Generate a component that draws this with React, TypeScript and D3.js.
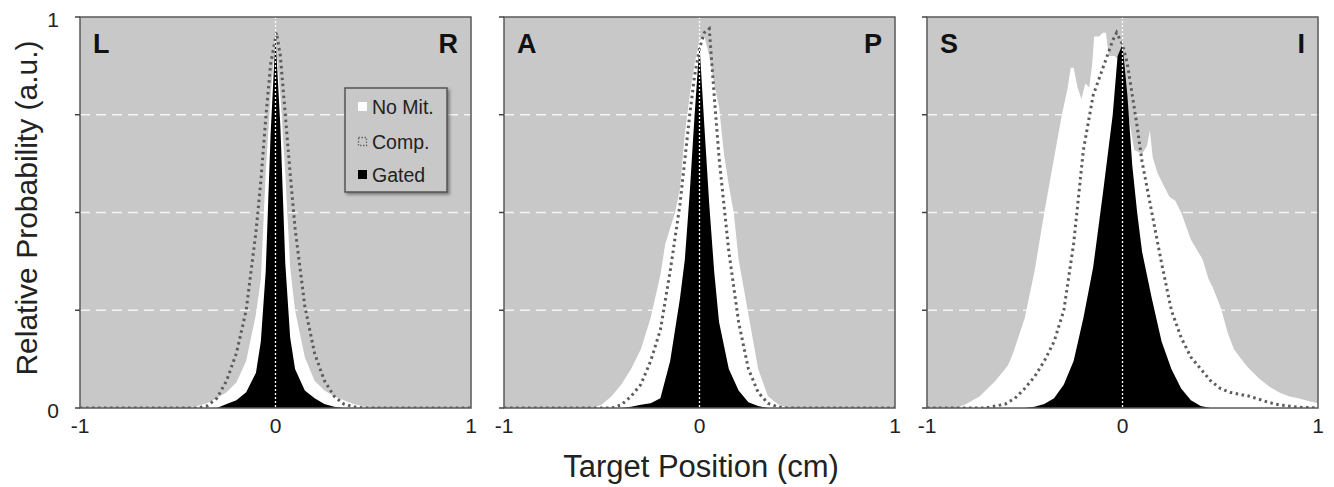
import * as d3 from "d3";
import React from "react";

// [x, relative probability] pairs
const lrNoMit: [number, number][] = [[-1,0],[-0.45,0],[-0.4,0.005],[-0.35,0.012],[-0.3,0.025],[-0.25,0.04],[-0.2,0.065],[-0.15,0.12],[-0.1,0.24],[-0.075,0.33],[-0.05,0.6],[-0.025,0.8],[0,0.94],[0.025,0.8],[0.05,0.6],[0.075,0.36],[0.1,0.25],[0.15,0.13],[0.2,0.07],[0.25,0.045],[0.3,0.03],[0.35,0.02],[0.4,0.01],[0.45,0.004],[0.5,0],[1,0]];
const lrComp: [number, number][] = [[-1,0],[-0.4,0],[-0.35,0.005],[-0.3,0.025],[-0.25,0.07],[-0.2,0.14],[-0.15,0.25],[-0.1,0.45],[-0.075,0.58],[-0.05,0.74],[-0.025,0.88],[0.005,0.96],[0.025,0.9],[0.05,0.75],[0.075,0.6],[0.1,0.46],[0.15,0.26],[0.2,0.14],[0.25,0.07],[0.3,0.03],[0.35,0.01],[0.4,0.003],[0.45,0],[1,0]];
const lrGated: [number, number][] = [[-1,0],[-0.3,0],[-0.25,0.01],[-0.2,0.02],[-0.15,0.04],[-0.1,0.09],[-0.075,0.17],[-0.05,0.35],[-0.025,0.7],[0,0.95],[0.025,0.72],[0.05,0.37],[0.075,0.18],[0.1,0.1],[0.15,0.045],[0.2,0.025],[0.25,0.01],[0.3,0.003],[0.35,0],[1,0]];

const apNoMit: [number, number][] = [[-1,0],[-0.55,0],[-0.5,0.008],[-0.45,0.03],[-0.4,0.06],[-0.35,0.1],[-0.3,0.15],[-0.25,0.23],[-0.2,0.34],[-0.175,0.42],[-0.15,0.46],[-0.125,0.5],[-0.1,0.56],[-0.075,0.7],[-0.05,0.8],[-0.025,0.88],[0,0.94],[0.025,0.95],[0.05,0.9],[0.075,0.83],[0.1,0.77],[0.125,0.65],[0.15,0.57],[0.175,0.5],[0.2,0.38],[0.25,0.24],[0.3,0.1],[0.35,0.03],[0.4,0.01],[0.45,0],[1,0]];
const apComp: [number, number][] = [[-1,0],[-0.45,0],[-0.4,0.008],[-0.35,0.03],[-0.3,0.06],[-0.25,0.12],[-0.2,0.2],[-0.15,0.35],[-0.1,0.52],[-0.05,0.75],[-0.025,0.85],[0,0.92],[0.025,0.96],[0.05,0.97],[0.075,0.8],[0.1,0.64],[0.15,0.4],[0.2,0.22],[0.25,0.1],[0.3,0.04],[0.35,0.012],[0.4,0.003],[0.45,0],[1,0]];
const apGated: [number, number][] = [[-1,0],[-0.4,0],[-0.35,0.003],[-0.3,0.008],[-0.25,0.012],[-0.2,0.025],[-0.15,0.12],[-0.1,0.28],[-0.075,0.38],[-0.05,0.55],[-0.025,0.75],[0,0.93],[0.025,0.72],[0.05,0.52],[0.075,0.35],[0.1,0.22],[0.15,0.1],[0.2,0.045],[0.25,0.015],[0.3,0.005],[0.35,0],[1,0]];

const siNoMit: [number, number][] = [[-1,0],[-0.85,0],[-0.8,0.01],[-0.73,0.03],[-0.65,0.07],[-0.6,0.1],[-0.585,0.11],[-0.56,0.14],[-0.5,0.23],[-0.45,0.35],[-0.4,0.5],[-0.35,0.64],[-0.31,0.75],[-0.28,0.82],[-0.265,0.87],[-0.25,0.87],[-0.23,0.82],[-0.21,0.79],[-0.19,0.83],[-0.17,0.82],[-0.155,0.88],[-0.145,0.95],[-0.12,0.95],[-0.1,0.96],[-0.085,0.96],[-0.07,0.9],[-0.04,0.9],[0,0.88],[0.03,0.75],[0.06,0.66],[0.1,0.65],[0.125,0.67],[0.14,0.71],[0.155,0.64],[0.18,0.6],[0.21,0.57],[0.24,0.54],[0.27,0.53],[0.3,0.5],[0.35,0.43],[0.41,0.38],[0.44,0.33],[0.46,0.31],[0.5,0.26],[0.54,0.19],[0.57,0.15],[0.6,0.13],[0.64,0.105],[0.7,0.075],[0.75,0.055],[0.8,0.04],[0.85,0.03],[0.9,0.025],[0.95,0.018],[1,0.012]];
const siComp: [number, number][] = [[-1,0],[-0.7,0],[-0.6,0.01],[-0.55,0.025],[-0.5,0.05],[-0.45,0.08],[-0.4,0.12],[-0.35,0.17],[-0.3,0.25],[-0.25,0.42],[-0.2,0.66],[-0.15,0.8],[-0.1,0.87],[-0.05,0.94],[-0.03,0.96],[0,0.93],[0.025,0.88],[0.05,0.8],[0.075,0.72],[0.1,0.63],[0.15,0.5],[0.2,0.37],[0.25,0.25],[0.3,0.18],[0.35,0.13],[0.4,0.1],[0.45,0.07],[0.5,0.05],[0.55,0.04],[0.6,0.035],[0.65,0.03],[0.7,0.022],[0.75,0.014],[0.8,0.008],[0.9,0.002],[1,0]];
const siGated: [number, number][] = [[-1,0],[-0.5,0],[-0.45,0.003],[-0.4,0.01],[-0.35,0.025],[-0.3,0.06],[-0.25,0.12],[-0.2,0.23],[-0.15,0.36],[-0.1,0.55],[-0.05,0.75],[-0.025,0.9],[0,0.93],[0.025,0.8],[0.05,0.62],[0.075,0.5],[0.1,0.4],[0.15,0.28],[0.2,0.17],[0.25,0.1],[0.3,0.05],[0.35,0.02],[0.4,0.005],[0.45,0],[1,0]];

const panelLetters = [["L", "R"], ["A", "P"], ["S", "I"]];
const xTicks = [-1, 0, 1];
const yTicks = [0, 0.25, 0.5, 0.75, 1];
const gridTicks = [0.25, 0.5, 0.75];
const legendItems = ["No Mit.", "Comp.", "Gated"];

const panels = [
  { noMit: lrNoMit, comp: lrComp, gated: lrGated },
  { noMit: apNoMit, comp: apComp, gated: apGated },
  { noMit: siNoMit, comp: siComp, gated: siGated },
];

const FONT = "'Liberation Sans', Arial, Helvetica, sans-serif";
const BG = "#c8c8c8";

const panelLeft = [80, 504, 927];
const panelW = 391;
const top = 17;
const panelH = 391;

function Panel({ idx }: { idx: number }) {
  const p = panels[idx];
  const x = d3.scaleLinear().domain([-1, 1]).range([0, panelW]);
  const y = d3.scaleLinear().domain([0, 1]).range([panelH, 0]);
  const area = d3.area<[number, number]>().x(d => x(d[0])).y0(panelH).y1(d => y(d[1]));
  const line = d3.line<[number, number]>().x(d => x(d[0])).y(d => y(d[1]));
  const clipId = "clip" + idx;
  return (
    <g transform={`translate(${panelLeft[idx]},${top})`}>
      <defs>
        <clipPath id={clipId}><rect width={panelW} height={panelH} /></clipPath>
      </defs>
      <rect width={panelW} height={panelH} fill={BG} />
      {gridTicks.map(t => (
        <line key={t} x1={0} x2={panelW} y1={y(t)} y2={y(t)} stroke="#f4f4f4" strokeWidth={1.5} strokeDasharray="10 6" />
      ))}
      <g clipPath={`url(#${clipId})`}>
        <path d={area(p.noMit) || ""} fill="#fff" />
        <path d={area(p.gated) || ""} fill="#000" />
        <path d={line(p.comp) || ""} fill="none" stroke="#5c5c5c" strokeWidth={3} strokeDasharray="2.5 3.5" />
        <line x1={x(0)} x2={x(0)} y1={0} y2={panelH} stroke="#fff" strokeWidth={1.3} strokeDasharray="2 2" />
      </g>
      <rect width={panelW} height={panelH} fill="none" stroke="#5a5a5a" strokeWidth={1.5} />
      {yTicks.map(t => (
        <line key={t} x1={-5} x2={0} y1={y(t)} y2={y(t)} stroke="#444" strokeWidth={1.5} />
      ))}
      {idx === 0 && [0, 1].map(t => (
        <text key={t} x={-21} y={y(t) + 10} textAnchor="end" fontSize={21} fontFamily={FONT} fill="#222">{t}</text>
      ))}
      {xTicks.map(t => (
        <text key={t} x={x(t)} y={panelH + 25} textAnchor="middle" fontSize={21} fontFamily={FONT} fill="#222">{t}</text>
      ))}
      <text x={13} y={36} fontSize={27} fontWeight="bold" fontFamily={FONT} fill="#111">{panelLetters[idx][0]}</text>
      <text x={panelW - 13} y={36} textAnchor="end" fontSize={27} fontWeight="bold" fontFamily={FONT} fill="#111">{panelLetters[idx][1]}</text>
    </g>
  );
}

function Legend() {
  const lx = 345, ly = 88, lw = 102, lh = 104;
  const rowY = [107, 142, 175];
  return (
    <g>
      <defs>
        <filter id="shadow" x="-10%" y="-10%" width="130%" height="130%">
          <feDropShadow dx={2} dy={2} stdDeviation={1.5} floodColor="#444" floodOpacity={0.6} />
        </filter>
      </defs>
      <rect x={lx} y={ly} width={lw} height={lh} fill={BG} stroke="#555" strokeWidth={1.5} filter="url(#shadow)" />
      {legendItems.map((name, i) => (
        <g key={name}>
          {i === 0 && <rect x={358} y={rowY[i] - 5} width={9} height={9} fill="#fff" />}
          {i === 1 && <rect x={358.5} y={rowY[i] - 4.5} width={8} height={8} fill="none" stroke="#666" strokeWidth={1.3} strokeDasharray="1.5 1.5" />}
          {i === 2 && <rect x={358} y={rowY[i] - 5} width={9} height={9} fill="#000" />}
          <text x={372} y={rowY[i] + 7} fontSize={19.5} fontFamily={FONT} fill="#222">{name}</text>
        </g>
      ))}
    </g>
  );
}

export default function App() {
  return (
    <svg width={1334} height={487} style={{ position: "absolute", left: 0, top: 0, background: "#fff" }}>
      {panels.map((_, i) => <Panel key={i} idx={i} />)}
      <Legend />
      <text transform="translate(37,208) rotate(-90)" textAnchor="middle" fontSize={30} fontFamily={FONT} fill="#222">Relative Probability (a.u.)</text>
      <text x={701} y={477} textAnchor="middle" fontSize={31} fontFamily={FONT} fill="#222">Target Position (cm)</text>
    </svg>
  );
}
